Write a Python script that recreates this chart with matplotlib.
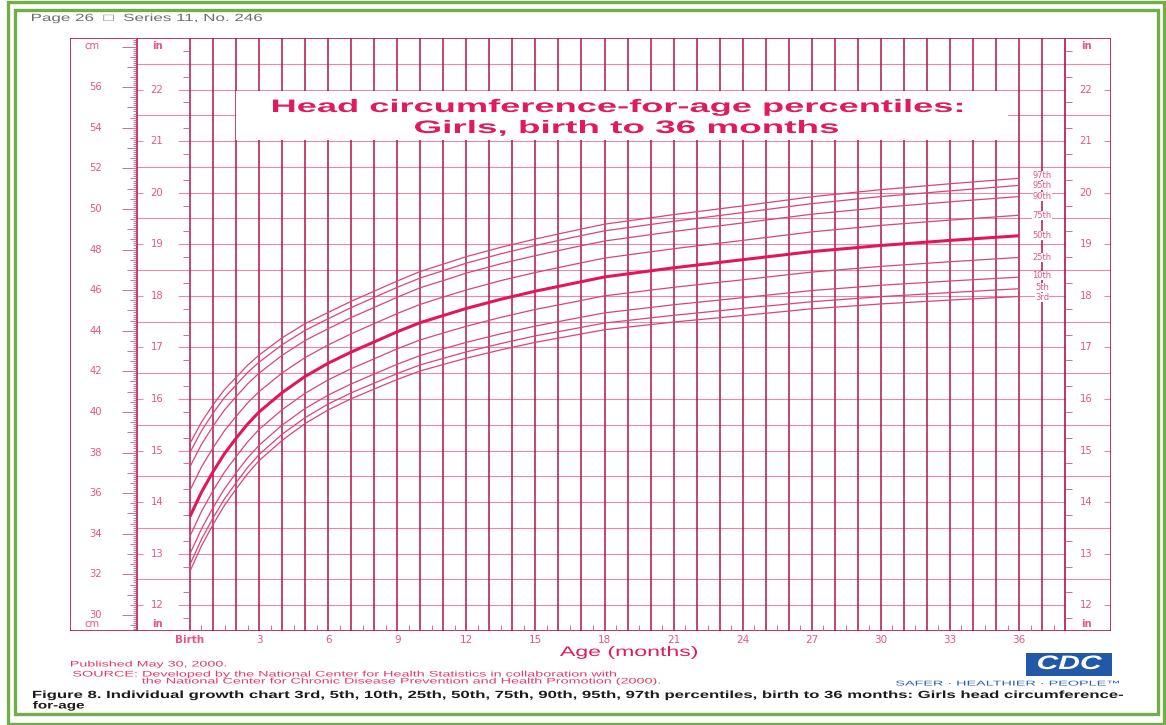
import matplotlib
matplotlib.use("Agg")
import matplotlib.pyplot as plt
import matplotlib.patheffects as pe
from matplotlib.collections import LineCollection
from matplotlib.patches import Rectangle
from matplotlib.transforms import Affine2D

IN = 2.54
W, H = 1166, 725

# head circumference (cm), girls birth to 36 months
ages = [0, 0.5, 1, 1.5, 2, 2.5, 3, 4, 5, 6, 7, 8, 9, 10, 11, 12, 13.5, 15, 16.5, 18,
        21, 24, 27, 30, 33, 36]
p97 = [38.45, 39.50, 40.35, 41.10, 41.70, 42.30, 42.80, 43.65, 44.35, 44.90, 45.45, 45.95,
       46.45, 46.92, 47.28, 47.65, 48.11, 48.52, 48.89, 49.25, 49.72, 50.15, 50.60, 50.95,
       51.24, 51.51]
p95 = [38.00, 39.07, 39.94, 40.71, 41.32, 41.94, 42.45, 43.31, 44.02, 44.59, 45.14, 45.64,
       46.14, 46.60, 46.96, 47.33, 47.79, 48.20, 48.57, 48.92, 49.39, 49.82, 50.26, 50.61,
       50.89, 51.16]
p90 = [37.30, 38.40, 39.30, 40.10, 40.75, 41.38, 41.91, 42.79, 43.52, 44.10, 44.65, 45.15,
       45.65, 46.12, 46.47, 46.84, 47.30, 47.70, 48.07, 48.42, 48.89, 49.31, 49.74, 50.07,
       50.35, 50.61]
p75 = [36.14, 37.29, 38.23, 39.08, 39.78, 40.44, 41.00, 41.92, 42.68, 43.30, 43.85, 44.35,
       44.85, 45.30, 45.66, 46.01, 46.47, 46.87, 47.23, 47.58, 48.04, 48.45, 48.87, 49.19,
       49.45, 49.69]
p50 = [34.85, 36.05, 37.05, 37.95, 38.70, 39.40, 40.00, 40.95, 41.75, 42.40, 42.95, 43.45,
       43.95, 44.40, 44.75, 45.10, 45.55, 45.95, 46.30, 46.65, 47.10, 47.50, 47.90, 48.20,
       48.45, 48.68]
p25 = [33.88, 35.10, 36.12, 37.04, 37.80, 38.52, 39.14, 40.11, 40.92, 41.58, 42.13, 42.62,
       43.11, 43.55, 43.89, 44.22, 44.66, 45.05, 45.38, 45.72, 46.14, 46.51, 46.89, 47.17,
       47.40, 47.61]
p10 = [33.01, 34.24, 35.28, 36.21, 37.00, 37.73, 38.36, 39.35, 40.17, 40.83, 41.38, 41.87,
       42.35, 42.78, 43.11, 43.43, 43.85, 44.23, 44.56, 44.88, 45.28, 45.63, 45.98, 46.24,
       46.45, 46.64]
p5 = [32.49, 33.73, 34.78, 35.72, 36.51, 37.26, 37.90, 38.90, 39.72, 40.39, 40.94, 41.42,
      41.89, 42.32, 42.64, 42.96, 43.37, 43.75, 44.06, 44.38, 44.76, 45.10, 45.43, 45.68,
      45.88, 46.07]
p3 = [32.15, 33.40, 34.45, 35.40, 36.20, 36.95, 37.60, 38.60, 39.43, 40.10, 40.65, 41.13,
      41.60, 42.02, 42.34, 42.65, 43.06, 43.43, 43.74, 44.05, 44.43, 44.75, 45.08, 45.32,
      45.51, 45.69]

curves = [p3, p5, p10, p25, p50, p75, p90, p95, p97]
curve_names = ["3rd", "5th", "10th", "25th", "50th", "75th", "90th", "95th", "97th"]

month_ticks = [0, 3, 6, 9, 12, 15, 18, 21, 24, 27, 30, 33, 36]
month_labels = ["Birth", "3", "6", "9", "12", "15", "18", "21", "24", "27", "30", "33", "36"]
cm_labels = [30, 32, 34, 36, 38, 40, 42, 44, 46, 48, 50, 52, 54, 56]
in_labels = [12, 13, 14, 15, 16, 17, 18, 19, 20, 21, 22]

VLINE = "#b0134e"
HLINE = "#e88aa8"
TICK = "#d4527f"
LABEL = "#e4568a"
CURVE = "#d8457a"
BOLD = "#e2175b"
TITLE = "#e01a5c"
GREEN = "#72ad48"

X_CM = -5.2      # left frame, cm column
X_IN_L = -2.3    # left inch axis
X_IN_R = 38.0    # right inch axis
X_END = 40.0     # right frame
Y_LO, Y_HI = 11.5 * IN, 23 * IN

# nudges (pixels) so the end labels do not collide
label_nudge = {"97th": 2.5, "95th": -0.5, "90th": 0, "75th": 0, "50th": 0,
               "25th": 0, "10th": 1.5, "5th": 1.5, "3rd": -1.5}


class FitWidth(pe.AbstractPathEffect):
    # the original uses a wide extended face: stretch glyphs to span x0..x1 px
    def __init__(self, x0, x1):
        super().__init__()
        self.x0, self.x1 = x0, x1

    def draw_path(self, renderer, gc, tpath, affine, rgbFace=None):
        bb = tpath.get_extents(affine)
        sx = (self.x1 - self.x0) / bb.width
        fit = affine + Affine2D().translate(-bb.x0, 0).scale(sx, 1).translate(self.x0, 0)
        renderer.draw_path(gc, tpath, fit, rgbFace)


def wide_text(fig, x0, x1, y, s, **kw):
    fig.text(x0 / W, 1 - y / H, s, ha="left", va="center",
             path_effects=[FitWidth(x0, x1)], **kw)


def mx(px):
    return (px - 190) / 23.03


fig = plt.figure(figsize=(W / 100, H / 100), dpi=100)
fig.patch.set_facecolor("white")

ax = fig.add_axes([70.2 / W, (H - 631) / H, 1041 / W, 593 / H])
ax.set_xlim(X_CM, X_END)
ax.set_ylim(Y_LO, Y_HI)
ax.axis("off")

# horizontal grid
segs = [[(X_IN_L, (k + 0.5) * IN), (X_END, (k + 0.5) * IN)] for k in range(12, 23)]
segs += [[(-0.52, k * IN), (X_IN_R, k * IN)] for k in in_labels]
segs += [[(X_IN_L, k * IN), (X_IN_L + 0.26, k * IN)] for k in in_labels]
segs += [[(X_END - 0.3, k * IN), (X_END, k * IN)] for k in in_labels]
ax.add_collection(LineCollection(segs, colors=HLINE, linewidths=0.8, zorder=1))

# vertical month lines and frame
vsegs = [[(m, Y_LO), (m, Y_HI)] for m in range(0, 38)]
ax.add_collection(LineCollection(vsegs, colors=VLINE, linewidths=1.1, zorder=2))
fsegs = [[(x, Y_LO), (x, Y_HI)] for x in (X_CM, X_IN_L, X_IN_R, X_END)]
fsegs += [[(X_CM, Y_LO), (X_END, Y_LO)], [(X_CM, Y_HI), (X_END, Y_HI)]]
ax.add_collection(LineCollection(fsegs, colors=VLINE, linewidths=1.2, zorder=2))

# small ticks
tsegs = []
for q in range(47, 92):
    if q % 2 == 1:
        y = q * IN / 4
        tsegs += [[(-0.3, y), (0, y)], [(X_IN_R, y), (X_IN_R + 0.3, y)]]
for mm in range(293, 585):
    if mm % 20 == 0:
        ln = 0.65
    elif mm % 10 == 0:
        ln = 0.45
    elif mm % 5 == 0:
        ln = 0.3
    else:
        ln = 0.17
    tsegs.append([(X_IN_L - ln, mm / 10), (X_IN_L, mm / 10)])
for h in range(0, 38):
    tsegs.append([(h + 0.5, Y_LO), (h + 0.5, Y_LO + 0.3)])
ax.add_collection(LineCollection(tsegs, colors=TICK, linewidths=0.6, zorder=2))

# white box behind the title
ax.add_patch(Rectangle((2, 21 * IN + 0.06), 33.5, IN - 0.12, fc="white", ec="none", zorder=3))

# percentile curves
for vals, name in zip(curves, curve_names):
    if name == "50th":
        ax.plot(ages, vals, color=BOLD, lw=2.2, zorder=5, solid_capstyle="butt")
    else:
        ax.plot(ages, vals, color=CURVE, lw=0.9, zorder=5)
    ax.annotate(name, (37, vals[-1]), xytext=(0, label_nudge[name]),
                textcoords="offset pixels", ha="center", va="center", fontsize=6.0,
                color=LABEL, family="DejaVu Sans", zorder=6,
                bbox=dict(fc="white", ec="none", pad=0.0))

# axis labels
lab = dict(fontsize=7.2, color=LABEL, family="DejaVu Sans", ha="center", va="center",
           clip_on=False)
for c in cm_labels:
    ax.text(mx(96), c, str(c), **lab)
for i in in_labels:
    ax.text(mx(157), i * IN, str(i), **lab)
    ax.text(mx(1086), i * IN, str(i), **lab)
ax.text(mx(92), 58.05, "cm", **lab)
ax.text(mx(92), 29.55, "cm", **lab)
for x in (157, 1086):
    ax.text(mx(x), 58.05, "in", fontweight="bold", **lab)
    ax.text(mx(x), 29.55, "in", fontweight="bold", **lab)

xt = ax.get_xaxis_transform()
for m, s in zip(month_ticks, month_labels):
    ax.text(m, -0.0152, s, transform=xt, fontsize=7.5, color=LABEL, family="DejaVu Sans",
            ha="center", va="center", fontweight="bold" if s == "Birth" else "normal")

# title and texts around the chart
wide_text(fig, 273, 962, 107.5, "Head circumference-for-age percentiles:",
          fontsize=13, fontweight="bold", color=TITLE, family="Liberation Sans")
wide_text(fig, 415, 838, 128.5, "Girls, birth to 36 months",
          fontsize=13, fontweight="bold", color=TITLE, family="Liberation Sans")
wide_text(fig, 560, 697, 652, "Age (months)", fontsize=10, color=TITLE,
          family="Liberation Sans")
wide_text(fig, 32, 262, 18, "Page 26  \u25a1  Series 11, No. 246", fontsize=7.5,
          color="#6e6e6e", family=["Liberation Sans", "DejaVu Sans"])
wide_text(fig, 71, 226, 665, "Published May 30, 2000.", fontsize=5.8, color="#e33a68",
          family="Liberation Sans")
wide_text(fig, 73, 616, 675, "SOURCE: Developed by the National Center for Health "
          "Statistics in collaboration with", fontsize=5.8, color="#e33a68",
          family="Liberation Sans")
wide_text(fig, 142, 660, 682, "the National Center for Chronic Disease Prevention and "
          "Health Promotion (2000).", fontsize=5.8, color="#e33a68", family="Liberation Sans")
wide_text(fig, 33, 1123, 695, "Figure 8. Individual growth chart 3rd, 5th, 10th, 25th, "
          "50th, 75th, 90th, 95th, 97th percentiles, birth to 36 months: Girls head "
          "circumference-", fontsize=7.5, fontweight="bold", color="#1c1c1c",
          family="Liberation Sans")
wide_text(fig, 33, 84, 705.5, "for-age", fontsize=7.5, fontweight="bold", color="#1c1c1c",
          family="Liberation Sans")

# CDC logo
fig.add_artist(Rectangle((1026 / W, 1 - 676 / H), 86 / W, 23 / H,
                         transform=fig.transFigure, fc="#2158a8", ec="none"))
wide_text(fig, 1038, 1102, 664.5, "CDC", fontsize=14, fontweight="bold", style="italic",
          color="white", family="Liberation Sans")
wide_text(fig, 896, 1119, 684, "SAFER \u00b7 HEALTHIER \u00b7 PEOPLE\u2122", fontsize=5,
          color="#2f5fae", family=["Liberation Sans", "DejaVu Sans"])

# green double border
fig.add_artist(Rectangle((8 / W, 1 - 723.5 / H), 1156 / W, 721.5 / H, fill=False,
                         ec=GREEN, lw=2.4, transform=fig.transFigure))
fig.add_artist(Rectangle((14.5 / W, 1 - 714 / H), 1143 / W, 704.5 / H, fill=False,
                         ec=GREEN, lw=2.4, transform=fig.transFigure))

fig.savefig("out.png", dpi=100, facecolor="white")
